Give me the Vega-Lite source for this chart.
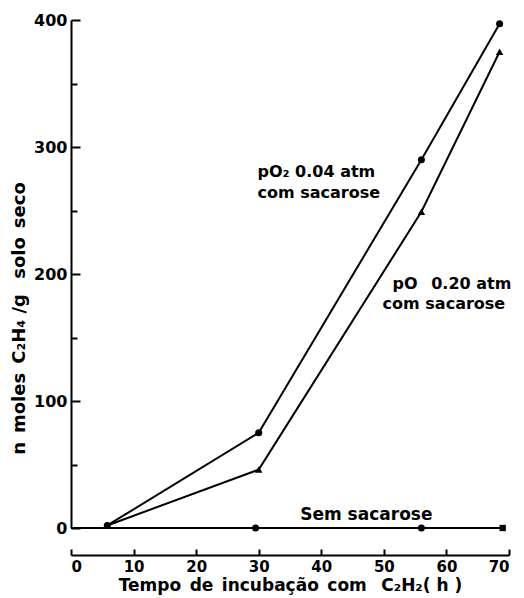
{
  "$schema": "https://vega.github.io/schema/vega-lite/v6.json",
  "autosize": "none",
  "width": 438,
  "height": 508,
  "padding": {"left": 71, "top": 20, "right": 15, "bottom": 70},
  "background": "white",
  "config": {
    "view": {"stroke": null},
    "font": "DejaVu Sans",
    "axis": {
      "domainColor": "black", "domainWidth": 2, "tickColor": "black", "tickWidth": 2,
      "labelColor": "black", "titleColor": "black", "grid": false,
      "labelFont": "DejaVu Sans", "titleFont": "DejaVu Sans", "titleFontWeight": "bold",
      "labelFontWeight": "bold", "labelFontSize": 16, "titleFontSize": 16
    }
  },
  "datasets": {
    "series": [
      {"serie": "pO2 0.04", "tempo": 5.8, "valor": 2},
      {"serie": "pO2 0.04", "tempo": 30, "valor": 75},
      {"serie": "pO2 0.04", "tempo": 56, "valor": 290},
      {"serie": "pO2 0.04", "tempo": 68.5, "valor": 397},
      {"serie": "pO 0.20", "tempo": 5.8, "valor": 2},
      {"serie": "pO 0.20", "tempo": 30, "valor": 46},
      {"serie": "pO 0.20", "tempo": 56, "valor": 249},
      {"serie": "pO 0.20", "tempo": 68.5, "valor": 375},
      {"serie": "Sem sacarose", "tempo": 0, "valor": 0},
      {"serie": "Sem sacarose", "tempo": 29.5, "valor": 0},
      {"serie": "Sem sacarose", "tempo": 56, "valor": 0},
      {"serie": "Sem sacarose", "tempo": 69, "valor": 0}
    ],
    "rotulos": [
      {"texto": "pO₂ 0.04 atm", "tempo": 29.8, "valor": 280, "alinh": "left"},
      {"texto": "com sacarose", "tempo": 29.8, "valor": 264, "alinh": "left"},
      {"texto": "pO\u2002 0.20 atm", "tempo": 51.4, "valor": 192, "alinh": "left"},
      {"texto": "com sacarose", "tempo": 49.8, "valor": 176, "alinh": "left"},
      {"texto": "Sem sacarose", "tempo": 47.2, "valor": 10, "alinh": "center"}
    ]
  },
  "layer": [
    {
      "data": {"name": "series"},
      "mark": {"type": "line", "color": "black", "strokeWidth": 2},
      "encoding": {
        "x": {
          "field": "tempo", "type": "quantitative",
          "scale": {"domain": [0, 70], "nice": false},
          "axis": {
            "values": [0, 10, 20, 30, 40, 50, 60, 70], "offset": 27,
            "tickSize": -6, "labelPadding": 10, "labelFontSize": 15,
            "title": "Tempo\u2002de\u2002incubação\u2002com\u2002 C₂H₂( h )", "titlePadding": 3, "titleFontSize": 17
          }
        },
        "y": {
          "field": "valor", "type": "quantitative",
          "scale": {"domain": [0, 400], "nice": false},
          "axis": {
            "values": [0, 50, 100, 150, 200, 250, 300, 350, 400],
            "labelExpr": "datum.value % 100 == 0 ? datum.label : ''",
            "tickSize": {"condition": {"test": "datum.value % 100 == 0", "value": -9}, "value": -6},
            "labelPadding": 13,
            "title": "n\u2002moles\u2002C₂H₄ /g\u2002 solo\u2002seco", "titleFontSize": 18,
            "titleX": -52, "titleY": 298, "titleBaseline": "middle", "titleAlign": "center", "titleAngle": -90
          }
        },
        "detail": {"field": "serie"}
      }
    },
    {
      "data": {"name": "series"},
      "transform": [{"filter": "datum.serie != 'pO 0.20' && datum.tempo > 0 && !(datum.serie == 'Sem sacarose' && datum.tempo == 69)"}],
      "mark": {"type": "point", "shape": "circle", "filled": true, "color": "black", "opacity": 1, "size": 50},
      "encoding": {
        "x": {"field": "tempo", "type": "quantitative"},
        "y": {"field": "valor", "type": "quantitative"}
      }
    },
    {
      "data": {"name": "series"},
      "transform": [{"filter": "datum.serie == 'pO 0.20'"}],
      "mark": {"type": "point", "shape": "triangle-up", "filled": true, "color": "black", "opacity": 1, "size": 55},
      "encoding": {
        "x": {"field": "tempo", "type": "quantitative"},
        "y": {"field": "valor", "type": "quantitative"}
      }
    },
    {
      "data": {"name": "series"},
      "transform": [{"filter": "datum.serie == 'Sem sacarose' && datum.tempo == 69"}],
      "mark": {"type": "point", "shape": "square", "filled": true, "color": "black", "opacity": 1, "size": 40},
      "encoding": {
        "x": {"field": "tempo", "type": "quantitative"},
        "y": {"field": "valor", "type": "quantitative"}
      }
    },
    {
      "data": {"name": "rotulos"},
      "transform": [{"filter": "datum.alinh == 'left'"}],
      "mark": {"type": "text", "align": "left", "baseline": "middle", "fontSize": 16, "fontWeight": "bold", "font": "DejaVu Sans", "color": "black"},
      "encoding": {
        "x": {"field": "tempo", "type": "quantitative"},
        "y": {"field": "valor", "type": "quantitative"},
        "text": {"field": "texto"}
      }
    },
    {
      "data": {"name": "rotulos"},
      "transform": [{"filter": "datum.alinh == 'center'"}],
      "mark": {"type": "text", "align": "center", "baseline": "middle", "fontSize": 17, "fontWeight": "bold", "font": "DejaVu Sans", "color": "black"},
      "encoding": {
        "x": {"field": "tempo", "type": "quantitative"},
        "y": {"field": "valor", "type": "quantitative"},
        "text": {"field": "texto"}
      }
    }
  ]
}
